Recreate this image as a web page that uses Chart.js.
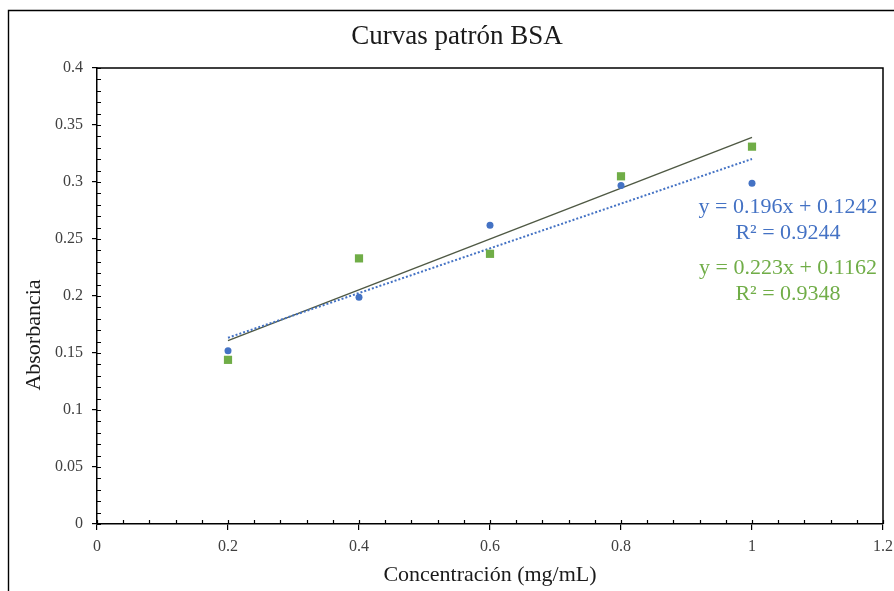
<!DOCTYPE html>
<html>
<head>
<meta charset="utf-8">
<title>Curvas patrón BSA</title>
<script src="https://cdn.jsdelivr.net/npm/chart.js@4/dist/chart.umd.min.js"></script>
<style>
  html, body { margin: 0; padding: 0; background: #ffffff; }
  #wrap { width: 894px; height: 591px; position: relative; }
</style>
</head>
<body>
<div id="wrap"><canvas id="grafico"></canvas></div>
<script>
// Concentración de BSA (mg/mL) y absorbancias de las dos curvas patrón
const concentracion = [0.2, 0.4, 0.6, 0.8, 1.0];
const absorbanciaA = [0.152, 0.199, 0.262, 0.297, 0.299];
const absorbanciaB = [0.144, 0.233, 0.237, 0.305, 0.331];

// Ajustes lineales (pendiente, ordenada al origen, R²)
const pendientes = [0.196, 0.223];
const ordenadas = [0.1242, 0.1162];
const coefR2 = [0.9244, 0.9348];

// Marcas de los ejes
const xTicks = [0, 0.2, 0.4, 0.6, 0.8, 1, 1.2];
const yTicks = [0, 0.05, 0.1, 0.15, 0.2, 0.25, 0.3, 0.35, 0.4];

const TITULO = 'Curvas patrón BSA';
const TITULO_Y = 'Absorbancia';

const AZUL = '#4472C4';
const VERDE = '#70AD47';
const SERIF = "'Liberation Serif', 'Times New Roman', serif";

const puntos = (ys) => concentracion.map((x, i) => ({ x, y: ys[i] }));
const recta = (k) => {
  const x0 = concentracion[0], x1 = concentracion[concentracion.length - 1];
  return [
    { x: x0, y: pendientes[k] * x0 + ordenadas[k] },
    { x: x1, y: pendientes[k] * x1 + ordenadas[k] }
  ];
};
const fmt = (v) => String(Number(v.toFixed(2)));

// Marco exterior, títulos, borde superior/derecho del área de trazado y subdivisiones de los ejes
const marcos = {
  id: 'marcos',
  afterDraw(chart) {
    const { ctx, chartArea: a, scales } = chart;
    ctx.save();
    ctx.strokeStyle = '#000';
    ctx.lineWidth = 1.4;
    ctx.beginPath();
    ctx.moveTo(8.5, 591);
    ctx.lineTo(8.5, 10.5);
    ctx.lineTo(894, 10.5);
    ctx.stroke();

    ctx.lineWidth = 1.5;
    ctx.beginPath();
    ctx.moveTo(a.left, a.top);
    ctx.lineTo(a.right, a.top);
    ctx.lineTo(a.right, a.bottom);
    ctx.stroke();

    ctx.lineWidth = 1.2;
    ctx.beginPath();
    for (let i = 0; i <= 40; i++) {
      const y = Math.round(scales.y.getPixelForValue(i / 100)) + 0.5;
      ctx.moveTo(a.left, y);
      ctx.lineTo(a.left + 4, y);
    }
    for (let i = 0; i <= 30; i++) {
      const x = Math.round(scales.x.getPixelForValue(i * 0.04)) + 0.5;
      ctx.moveTo(x, a.bottom);
      ctx.lineTo(x, a.bottom - 4);
    }
    ctx.stroke();

    // Título del gráfico, centrado sobre el marco exterior
    ctx.fillStyle = '#1a1a1a';
    ctx.textAlign = 'center';
    ctx.textBaseline = 'middle';
    ctx.font = `27px ${SERIF}`;
    ctx.fillText(TITULO, 457, 37);

    // Título del eje vertical
    ctx.font = `22px ${SERIF}`;
    ctx.translate(34, 335);
    ctx.rotate(-Math.PI / 2);
    ctx.fillText(TITULO_Y, 0, 0);
    ctx.restore();
  }
};

// Ecuaciones de las líneas de tendencia
const ecuaciones = {
  id: 'ecuaciones',
  afterDatasetsDraw(chart) {
    const { ctx, chartArea: a } = chart;
    const cx = a.right - 95;
    const filas = [
      { t: `y = ${pendientes[0]}x + ${ordenadas[0]}`, c: AZUL, y: 207 },
      { t: `R² = ${coefR2[0]}`, c: AZUL, y: 233 },
      { t: `y = ${pendientes[1]}x + ${ordenadas[1]}`, c: VERDE, y: 268 },
      { t: `R² = ${coefR2[1]}`, c: VERDE, y: 294 }
    ];
    ctx.save();
    ctx.font = `22px ${SERIF}`;
    ctx.textAlign = 'center';
    ctx.textBaseline = 'middle';
    filas.forEach(f => {
      ctx.fillStyle = f.c;
      ctx.fillText(f.t, cx, f.y);
    });
    ctx.restore();
  }
};

new Chart(document.getElementById('grafico'), {
  type: 'scatter',
  data: {
    datasets: [
      {
        label: 'Curva A',
        data: puntos(absorbanciaA),
        backgroundColor: AZUL,
        borderColor: AZUL,
        pointStyle: 'circle',
        pointRadius: 3.5,
        borderWidth: 0,
        order: 0
      },
      {
        label: 'Curva B',
        data: puntos(absorbanciaB),
        backgroundColor: VERDE,
        borderColor: VERDE,
        pointStyle: 'rect',
        pointRadius: 5.8,
        borderWidth: 0,
        order: 0
      },
      {
        label: 'Lineal (Curva A)',
        type: 'line',
        data: recta(0),
        borderColor: AZUL,
        borderWidth: 2,
        borderDash: [2, 2],
        pointRadius: 0,
        fill: false,
        order: 1
      },
      {
        label: 'Lineal (Curva B)',
        type: 'line',
        data: recta(1),
        borderColor: '#4f5944',
        borderWidth: 1.4,
        pointRadius: 0,
        fill: false,
        order: 2
      }
    ]
  },
  options: {
    responsive: true,
    maintainAspectRatio: false,
    devicePixelRatio: 1,
    animation: false,
    layout: { padding: { left: 0, right: 11, top: 68, bottom: 0 } },
    plugins: {
      legend: { display: false },
      tooltip: { enabled: false },
      title: { display: false }
    },
    scales: {
      x: {
        type: 'linear',
        min: 0,
        max: 1.2,
        afterBuildTicks: (s) => { s.ticks = xTicks.map(v => ({ value: v })); },
        afterFit: (s) => { s.height = 67; s.paddingLeft = 0; s.paddingRight = 0; },
        ticks: {
          color: '#404040',
          font: { family: SERIF, size: 16 },
          padding: 7,
          maxRotation: 0,
          callback: (v) => fmt(v)
        },
        grid: { drawOnChartArea: false, drawTicks: true, tickLength: 6, color: '#000', lineWidth: 1.2 },
        border: { display: true, color: '#000', width: 1.5 },
        title: {
          display: true,
          text: 'Concentración (mg/mL)',
          color: '#1a1a1a',
          font: { family: SERIF, size: 22 },
          padding: { top: 0, bottom: 3 }
        }
      },
      y: {
        type: 'linear',
        min: 0,
        max: 0.4,
        afterBuildTicks: (s) => { s.ticks = yTicks.map(v => ({ value: v })); },
        afterFit: (s) => { s.width = 97; s.paddingTop = 0; s.paddingBottom = 0; },
        ticks: {
          color: '#404040',
          font: { family: SERIF, size: 16 },
          padding: 9,
          callback: (v) => fmt(v)
        },
        grid: { drawOnChartArea: false, drawTicks: true, tickLength: 5, color: '#000', lineWidth: 1.2 },
        border: { display: true, color: '#000', width: 1.5 },
        title: { display: false }
      }
    }
  },
  plugins: [marcos, ecuaciones]
});
</script>
</body>
</html>
